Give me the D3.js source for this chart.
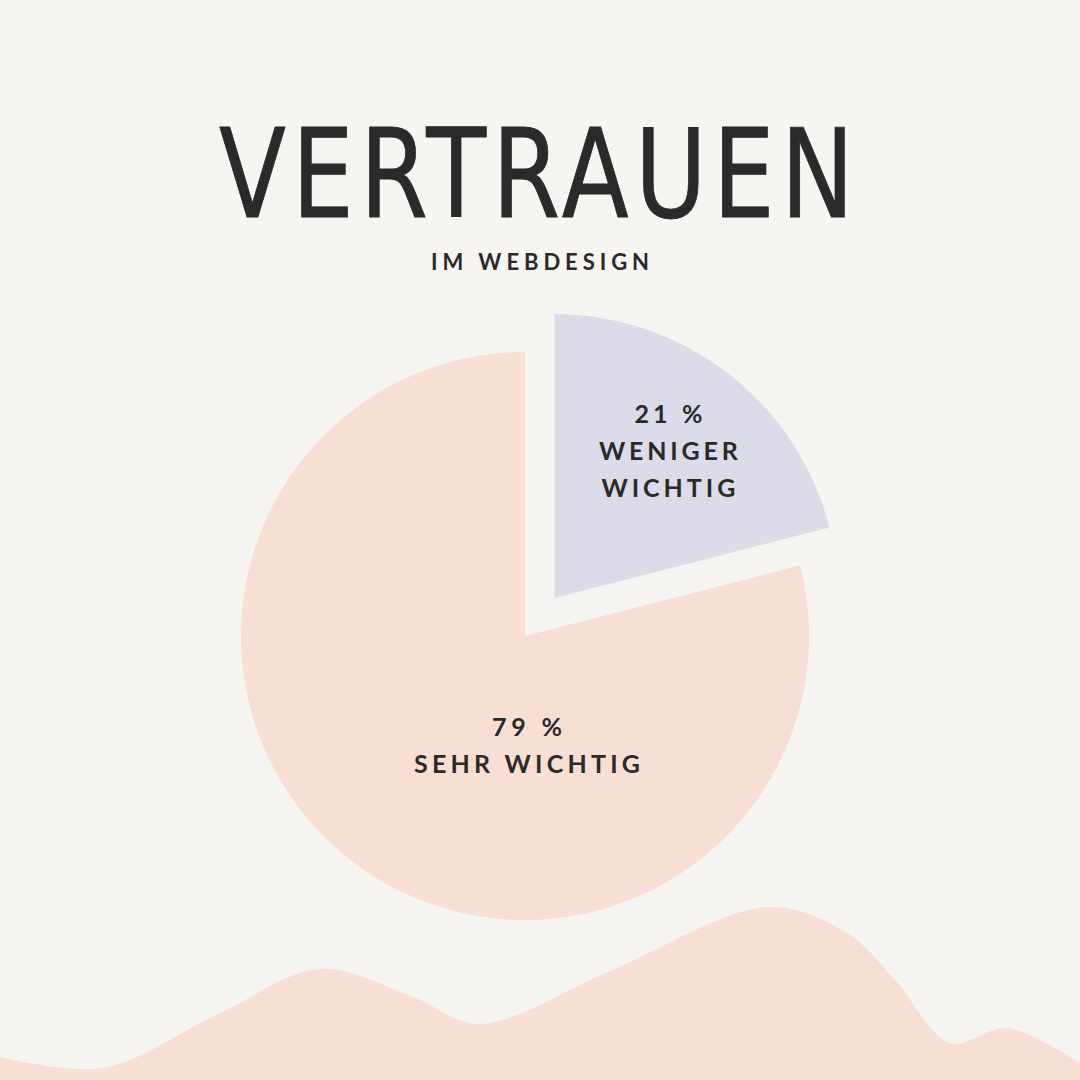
<!DOCTYPE html>
<html><head><meta charset="utf-8">
<script src="https://cdn.jsdelivr.net/npm/d3@7"></script>
<style>html,body{margin:0;padding:0;background:#f7f5f1;}svg{display:block;}</style>
</head><body>
<svg id="c" width="1080" height="1080"></svg>
<script>
const categories = ["WENIGER WICHTIG", "SEHR WICHTIG"];
const values = [21, 79];
const valueLabels = ["21 %", "79 %"];
const labelLines = [["WENIGER", "WICHTIG"], ["SEHR WICHTIG"]];
const title = "VERTRAUEN";
const subtitle = "IM WEBDESIGN";
const waveX = [0, 103, 220, 320, 413, 479, 606, 768, 847, 895, 950, 1007, 1080];
const waveY = [1057, 1068, 1013, 969, 997, 1024, 973, 907, 933, 980, 1043, 1028, 1063];

const W = 1080, H = 1080;
const svg = d3.select("#c");
svg.append("rect").attr("width", W).attr("height", H).attr("fill", "#f7f5f1");

const colors = d3.scaleOrdinal().domain(categories).range(["#dcdbe9", "#f7dfd3"]);
const textColor = "#2b2a2a";

// wave
const wavePts = waveX.map((x, i) => [x, waveY[i]]);
const area = d3.area().x(d => d[0]).y1(d => d[1]).y0(H).curve(d3.curveCatmullRom.alpha(0.5));
svg.append("path").attr("d", area(wavePts)).attr("fill", "#f7dfd3");

// title
svg.append("text").text(title)
  .attr("x", 219).attr("y", 217)
  .attr("textLength", 641).attr("lengthAdjust", "spacingAndGlyphs")
  .attr("letter-spacing", 7)
  .attr("font-family", "'DejaVu Sans Condensed', 'DejaVu Sans', sans-serif")
  .attr("font-size", 123).attr("fill", textColor)
  .attr("stroke", textColor).attr("stroke-width", 0.8);

svg.append("text").text(subtitle)
  .attr("x", 431).attr("y", 270)
  .attr("textLength", 218).attr("lengthAdjust", "spacing")
  .attr("font-family", "Lato, sans-serif").attr("font-weight", 700)
  .attr("font-size", 22).attr("fill", textColor);

// pie
const cx = 525, cy = 636, R = 284, explode = 48;
const pie = d3.pie().sort(null).value(d => d.v);
const arcs = pie(categories.map((c, i) => ({c, v: values[i], i})));
const arc = d3.arc().innerRadius(0).outerRadius(R);
const g = svg.append("g").attr("transform", `translate(${cx},${cy})`);

arcs.forEach((a, i) => {
  const mid = (a.startAngle + a.endAngle) / 2;
  const off = i === 0 ? explode : 0;
  const dx = Math.sin(mid) * off, dy = -Math.cos(mid) * off;
  const sg = g.append("g").attr("transform", `translate(${dx},${dy})`);
  sg.append("path").attr("d", arc(a)).attr("fill", colors(a.data.c));

  let lx, ly;
  if (i === 0) {
    const r = 186;
    lx = Math.sin(mid) * r; ly = -Math.cos(mid) * r;
  } else {
    lx = 2; ly = 109;
  }
  const lines = [valueLabels[i]].concat(labelLines[i]);
  const lh = 37;
  const startY = ly - (lines.length - 1) * lh / 2;
  const widths = i === 0 ? [68, 139, 134] : [70, 226];
  lines.forEach((t, k) => {
    sg.append("text").text(t)
      .attr("x", lx).attr("y", startY + k * lh + 9)
      .attr("text-anchor", "middle")
      .attr("textLength", widths[k]).attr("lengthAdjust", "spacing")
      .attr("font-family", "Lato, sans-serif").attr("font-weight", 700)
      .attr("font-size", 25).attr("fill", textColor);
  });
});
</script>
</body></html>
